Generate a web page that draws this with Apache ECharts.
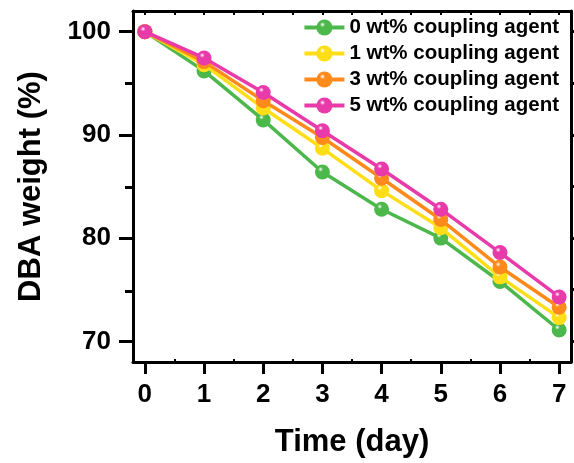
<!DOCTYPE html>
<html>
<head>
<meta charset="utf-8">
<script src="https://cdn.jsdelivr.net/npm/echarts@6/dist/echarts.min.js"></script>
<style>html,body{margin:0;padding:0;background:#fff;}#c{width:574px;height:463px;}</style>
</head>
<body>
<div id="c"></div>
<script>
const days = [0, 1, 2, 3, 4, 5, 6, 7];
const seriesNames = ['0 wt% coupling agent', '1 wt% coupling agent', '3 wt% coupling agent', '5 wt% coupling agent'];
const wt0 = [100, 96.2, 91.45, 86.4, 82.8, 80.0, 75.8, 71.1];
const wt1 = [100, 96.8, 92.6, 88.7, 84.6, 81.0, 76.25, 72.3];
const wt3 = [100, 97.1, 93.3, 89.75, 85.8, 81.8, 77.2, 73.3];
const wt5 = [100, 97.45, 94.1, 90.4, 86.7, 82.8, 78.6, 74.3];
const xTicks = [0, 1, 2, 3, 4, 5, 6, 7];
const xMinorTicks = [0.5, 1.5, 2.5, 3.5, 4.5, 5.5, 6.5];
const yTicks = [70, 80, 90, 100];
const yMinorTicks = [75, 85, 95];
const colors = ['#4cb84c', '#ffde17', '#ff8a1c', '#e93aa9'];
const allData = [wt0, wt1, wt3, wt5];

function ball(c) {
  return {
    type: 'radial', x: 0.38, y: 0.32, r: 0.75,
    colorStops: [
      { offset: 0, color: '#ffffff' },
      { offset: 0.22, color: c },
      { offset: 1, color: c }
    ]
  };
}

const font = '"Liberation Sans", Arial, sans-serif';
const gridRect = { left: 133, right: 3, top: 11, bottom: 99 };
const chart = echarts.init(document.getElementById('c'));
const axisLine = { show: true, onZero: false, lineStyle: { color: '#000', width: 3 } };
const hiddenLine = { show: false, onZero: false };

chart.setOption({
  animation: false,
  grid: [
    Object.assign({ containLabel: false }, gridRect),
    Object.assign({ containLabel: false }, gridRect)
  ],
  legend: {
    orient: 'vertical', right: 10, top: 12, itemGap: 5,
    itemWidth: 40, itemHeight: 20,
    lineStyle: { width: 4 },
    textStyle: { fontFamily: font, fontWeight: 'bold', fontSize: 20.5, color: '#000', lineHeight: 20 },
    data: seriesNames
  },
  xAxis: [
    {
      type: 'value', gridIndex: 0, position: 'bottom', min: -0.2, max: 7.2,
      axisLine: axisLine, splitLine: { show: false },
      axisTick: { show: true, customValues: xTicks, length: 12, lineStyle: { width: 3, color: '#000' } },
      axisLabel: { customValues: xTicks, fontFamily: font, fontWeight: 'bold', fontSize: 26, color: '#000', margin: 20 },
      name: 'Time (day)', nameLocation: 'middle', nameGap: 65,
      nameTextStyle: { fontFamily: font, fontWeight: 'bold', fontSize: 31, color: '#000' }
    },
    {
      type: 'value', gridIndex: 0, position: 'top', min: -0.2, max: 7.2,
      axisLine: axisLine, splitLine: { show: false },
      axisTick: { show: true, inside: true, customValues: xTicks.concat(xMinorTicks), length: 4, lineStyle: { width: 2, color: '#000' } },
      axisLabel: { show: false }
    },
    {
      type: 'value', gridIndex: 1, position: 'bottom', min: -0.2, max: 7.2,
      axisLine: hiddenLine, splitLine: { show: false },
      axisTick: { show: true, inside: true, customValues: xMinorTicks, length: 5, lineStyle: { width: 2, color: '#000' } },
      axisLabel: { show: false }
    }
  ],
  yAxis: [
    {
      type: 'value', gridIndex: 0, position: 'left', min: 68, max: 102,
      axisLine: axisLine, splitLine: { show: false },
      axisTick: { show: true, customValues: yTicks, length: 14, lineStyle: { width: 3, color: '#000' } },
      axisLabel: { customValues: yTicks, fontFamily: font, fontWeight: 'bold', fontSize: 26, color: '#000', margin: 22 },
      name: 'DBA weight (%)', nameLocation: 'middle', nameGap: 86,
      nameTextStyle: { fontFamily: font, fontWeight: 'bold', fontSize: 31, color: '#000' }
    },
    {
      type: 'value', gridIndex: 0, position: 'right', min: 68, max: 102,
      axisLine: axisLine, splitLine: { show: false },
      axisTick: { show: true, customValues: yTicks.concat(yMinorTicks), length: 6, lineStyle: { width: 3, color: '#000' } },
      axisLabel: { show: false }
    },
    {
      type: 'value', gridIndex: 1, position: 'left', min: 68, max: 102,
      axisLine: hiddenLine, splitLine: { show: false },
      axisTick: { show: true, customValues: yMinorTicks, length: 8, lineStyle: { width: 3, color: '#000' } },
      axisLabel: { show: false }
    }
  ],
  series: allData.map((d, i) => ({
    name: seriesNames[i],
    type: 'line', xAxisIndex: 0, yAxisIndex: 0,
    data: days.map((x, j) => [x, d[j]]),
    symbol: 'circle', symbolSize: 15,
    lineStyle: { color: colors[i], width: 3.5 },
    itemStyle: { color: ball(colors[i]), borderWidth: 0 },
    z: 3 + i
  }))
});
</script>
</body>
</html>
